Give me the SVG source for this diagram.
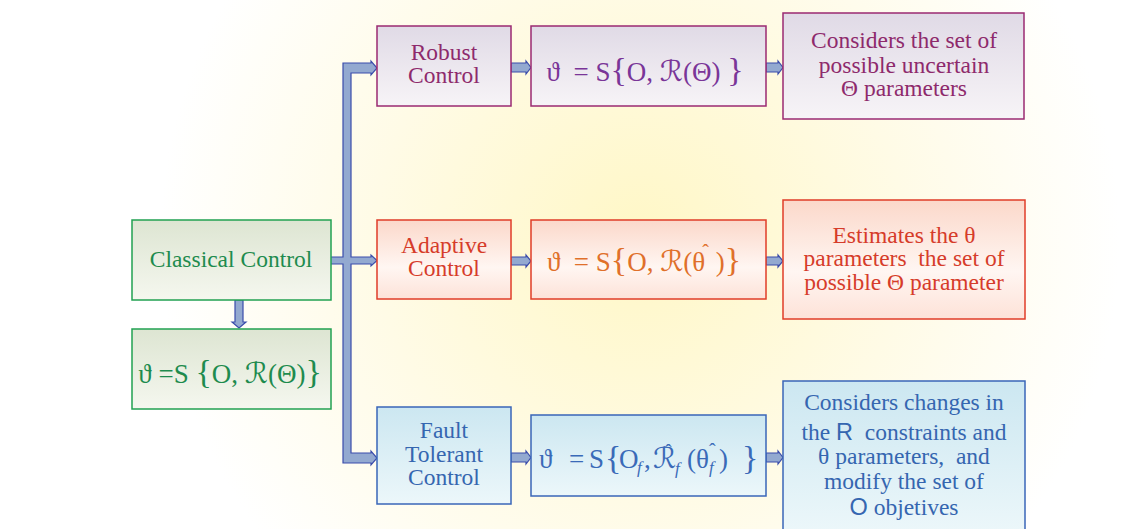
<svg xmlns="http://www.w3.org/2000/svg" width="1138" height="529" viewBox="0 0 1138 529">
<defs>
<radialGradient id="bg" cx="640" cy="240" r="480" gradientUnits="userSpaceOnUse">
<stop offset="0" stop-color="#fff7c6"/>
<stop offset="0.55" stop-color="#fffbe6"/>
<stop offset="1" stop-color="#ffffff"/>
</radialGradient>
<linearGradient id="gG" x1="0" y1="0" x2="0" y2="1"><stop offset="0" stop-color="#dde5d2"/><stop offset="1" stop-color="#f5f7ef"/></linearGradient>
<linearGradient id="gP" x1="0" y1="0" x2="0" y2="1"><stop offset="0" stop-color="#e0dae6"/><stop offset="1" stop-color="#f7f4f7"/></linearGradient>
<linearGradient id="gR" x1="0" y1="0" x2="0" y2="1"><stop offset="0" stop-color="#fbd8ca"/><stop offset="0.6" stop-color="#fff6f2"/><stop offset="1" stop-color="#fde2d8"/></linearGradient>
<linearGradient id="gB" x1="0" y1="0" x2="0" y2="1"><stop offset="0" stop-color="#cce7f1"/><stop offset="1" stop-color="#ecf7fa"/></linearGradient>
</defs>
<style>
text{font-family:"Liberation Serif","Times New Roman","DejaVu Serif",serif;text-anchor:middle;}
.lb{font-size:23.5px;}
.fm{font-size:27px;}
.st{text-anchor:start;}
.br{font-size:34px;}
.scr{font-family:"DejaVu Serif","DejaVu Sans",serif;font-size:29px;}
.sans{font-family:"Liberation Sans","Arial","DejaVu Sans",sans-serif;}
.sub{font-style:italic;font-size:17px;}
.conn{fill:#93a9d0;stroke:#3a4cab;stroke-width:1.2;stroke-linejoin:miter;}
.g{fill:url(#gG);stroke:#22a152;stroke-width:1.5;}
.p{fill:url(#gP);stroke:#9a2a72;stroke-width:1.5;}
.r{fill:url(#gR);stroke:#e03c28;stroke-width:1.5;}
.b{fill:url(#gB);stroke:#3a66b8;stroke-width:1.5;}
</style>
<rect x="0" y="0" width="1138" height="529" fill="url(#bg)"/>

<g id="connectors">
<path class="conn" d="M343,63 H371 V61 L377,68 L371,75 V73 H351 V257 H371 V255 L377,260.5 L371,266 V264 H351 V453 H371 V451 L377,458 L371,465 V463 H343 V264 H330 V257 H343 Z"/>
<path class="conn" d="M235,300 H243 V322 H246 L239,328 L232,322 H235 Z"/>
<path class="conn" d="M511,63 H526 V61 L531,67.5 L526,74 V72 H511 Z"/>
<path class="conn" d="M766,63 H778 V61 L783,67.5 L778,74 V72 H766 Z"/>
<path class="conn" d="M511,257 H526 V255 L531,261 L526,267 V265 H511 Z"/>
<path class="conn" d="M766,257 H778 V255 L783,261 L778,267 V265 H766 Z"/>
<path class="conn" d="M511,453 H526 V451 L531,457.5 L526,464 V462 H511 Z"/>
<path class="conn" d="M766,453 H778 V451 L783,457.5 L778,464 V462 H766 Z"/>
</g>

<g id="classical">
<rect class="g" x="132" y="220" width="199" height="80"/>
<text class="lb" x="231" y="267" fill="#1e8b4e">Classical Control</text>
</g>
<g id="classical-formula">
<rect class="g" x="132" y="329" width="199" height="80"/>
<text class="fm" x="230" y="383" fill="#1e8b4e" xml:space="preserve">ϑ =S <tspan class="br">{</tspan>O, <tspan class="scr">ℛ</tspan>(Θ)<tspan class="br">}</tspan></text>
</g>

<g id="robust">
<rect class="p" x="377" y="26" width="134" height="80"/>
<text class="lb" x="444" y="60" fill="#8e2a6c">Robust</text>
<text class="lb" x="444" y="83" fill="#8e2a6c">Control</text>
</g>
<g id="robust-formula">
<rect class="p" x="531" y="26" width="235" height="80"/>
<text class="fm" x="645" y="81" fill="#7a3598" xml:space="preserve">ϑ  = S<tspan class="br">{</tspan>O, <tspan class="scr">ℛ</tspan>(Θ) <tspan class="br">}</tspan></text>
</g>
<g id="robust-desc">
<rect class="p" x="783" y="13" width="241" height="106"/>
<text class="lb" x="904" y="48" fill="#8e2a6c">Considers the set of</text>
<text class="lb" x="904" y="73" fill="#8e2a6c">possible uncertain</text>
<text class="lb" x="904" y="96" fill="#8e2a6c">Θ parameters</text>
</g>

<g id="adaptive">
<rect class="r" x="377" y="220" width="134" height="79"/>
<text class="lb" x="444" y="253" fill="#d63c2a">Adaptive</text>
<text class="lb" x="444" y="276" fill="#d63c2a">Control</text>
</g>
<g id="adaptive-formula">
<rect class="r" x="531" y="220" width="235" height="79"/>
<text class="fm" x="644" y="271" fill="#e0702a" xml:space="preserve">ϑ  = S<tspan class="br">{</tspan>O, <tspan class="scr">ℛ</tspan>(θ<tspan font-size="20" dx="-3" dy="-12">ˆ</tspan><tspan dy="12"> )</tspan><tspan class="br">}</tspan></text>
</g>
<g id="adaptive-desc">
<rect class="r" x="783" y="200" width="242" height="119"/>
<text class="lb" x="904" y="243" fill="#d63c2a">Estimates the θ</text>
<text class="lb" x="904" y="266" fill="#d63c2a" xml:space="preserve">parameters  the set of</text>
<text class="lb" x="904" y="290" fill="#d63c2a">possible Θ parameter</text>
</g>

<g id="fault">
<rect class="b" x="377" y="407" width="134" height="97"/>
<text class="lb" x="444" y="438" fill="#3566b0">Fault</text>
<text class="lb" x="444" y="462" fill="#3566b0">Tolerant</text>
<text class="lb" x="444" y="485" fill="#3566b0">Control</text>
</g>
<g id="fault-formula" fill="#3a6ab8">
<rect class="b" x="531" y="415" width="235" height="81"/>
<text class="fm st" x="539" y="468">ϑ</text>
<text class="fm st" x="569" y="468">=</text>
<text class="fm st" x="589" y="468">S</text>
<text class="br st" x="605" y="469">{</text>
<text class="fm st" x="619" y="468">O</text>
<text class="sub st" x="637" y="473">f</text>
<text class="fm st" x="644" y="468">,</text>
<text class="scr st" x="653" y="468">ℛ</text>
<text class="st" x="665" y="459" font-size="20">ˆ</text>
<text class="sub st" x="675" y="474">f</text>
<text class="fm st" x="687" y="468">(θ</text>
<text class="st" x="709" y="458" font-size="20">ˆ</text>
<text class="sub st" x="709" y="473">f</text>
<text class="fm st" x="719" y="468">)</text>
<text class="br st" x="742" y="469">}</text>
</g>
<g id="fault-desc">
<rect class="b" x="783" y="381" width="242" height="152"/>
<text class="lb" x="904" y="410" fill="#3566b0">Considers changes in</text>
<text class="lb" x="904" y="440" fill="#3566b0" xml:space="preserve">the <tspan class="sans">R</tspan>  constraints and</text>
<text class="lb" x="904" y="464" fill="#3566b0" xml:space="preserve">θ parameters,  and</text>
<text class="lb" x="904" y="489" fill="#3566b0">modify the set of</text>
<text class="lb" x="904" y="515" fill="#3566b0"><tspan class="sans">O</tspan> objetives</text>
</g>
</svg>
